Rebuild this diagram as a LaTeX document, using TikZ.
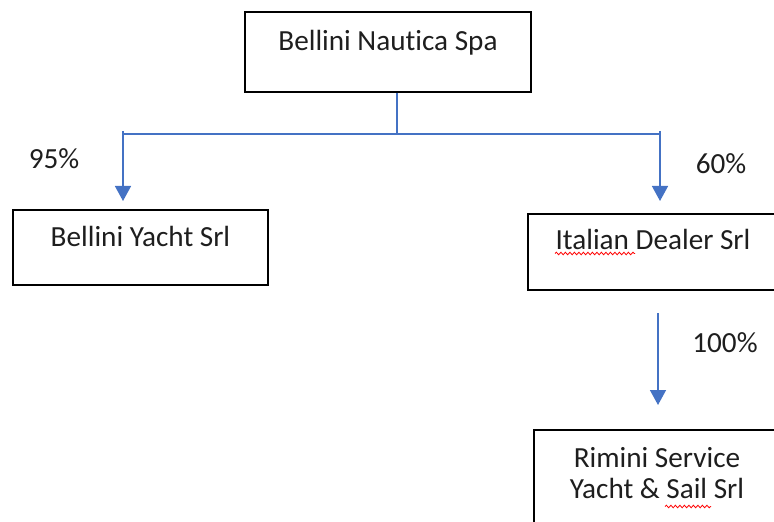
\documentclass[tikz,border=0pt]{standalone}
\usepackage{fontspec}
\setmainfont{Carlito}[Ligatures=CommonOff]
\usetikzlibrary{arrows.meta,decorations.pathmorphing}
\definecolor{linkblue}{HTML}{4472C4}
\definecolor{inktext}{HTML}{1E1E1E}
\tikzset{
  orgbox/.style={draw=black, line width=1.6bp, rectangle, inner sep=0pt, text=inktext,
    font=\fontsize{29.3}{31}\selectfont},
  pct/.style={inner sep=0pt, text=inktext, font=\fontsize{29.3}{31}\selectfont},
  link/.style={draw=linkblue, line width=1.5bp},
  linkarrow/.style={link, -{Triangle[width=16bp,length=15bp]}},
  squiggle/.style={draw=red, line width=0.8bp, decorate,
    decoration={snake, amplitude=1.3bp, segment length=4.5bp}}
}
\begin{document}
\begin{tikzpicture}[x=1bp,y=-1bp]
\useasboundingbox (0,0) rectangle (774,522);
\clip (0,0) rectangle (774,522);
% boxes
\node[orgbox, anchor=north, minimum width=286bp, text height=39bp, text depth=41bp]
  (top) at (388,11) {Bellini Nautica Spa};
\node[orgbox, anchor=north, minimum width=255bp, text height=37bp, text depth=38bp]
  (yacht) at (140.5,209) {Bellini Yacht Srl};
\node[orgbox, anchor=north, minimum width=250bp, text height=36bp, text depth=40bp]
  (dealer) at (653,213) {Italian Dealer Srl};
\node[orgbox, anchor=north west, minimum width=246bp, minimum height=140bp]
  (rimini) at (533,429) {};
\node[pct, align=center, anchor=base] (rimtext) at (657,498)
  {Rimini Service\\Yacht \& Sail Srl};
% labels
\node[pct] (p95) at (54,159) {95\%};
\node[pct] (p60) at (721,164) {60\%};
\node[pct] (p100) at (725,343) {100\%};
% connectors
\coordinate (j) at (397,134);
\coordinate (lt) at (123,131);
\coordinate (rt) at (660,131);
\coordinate (lh) at (123,134);
\coordinate (rh) at (660,134);
\coordinate (ltip) at (123,201);
\coordinate (rtip) at (660,201);
\coordinate (bstart) at (658,313);
\coordinate (btip) at (658,405);
\draw[link] (top.south -| j) -- (j);
\draw[link] (lh) -- (rh);
\draw[linkarrow] (lt) -- (ltip);
\draw[linkarrow] (rt) -- (rtip);
\draw[linkarrow] (bstart) -- (btip);
% spell-check marks
\draw[squiggle] (555,253.5) -- (635,253.5);
\draw[squiggle] (665,506.5) -- (711,506.5);
\end{tikzpicture}
\end{document}
